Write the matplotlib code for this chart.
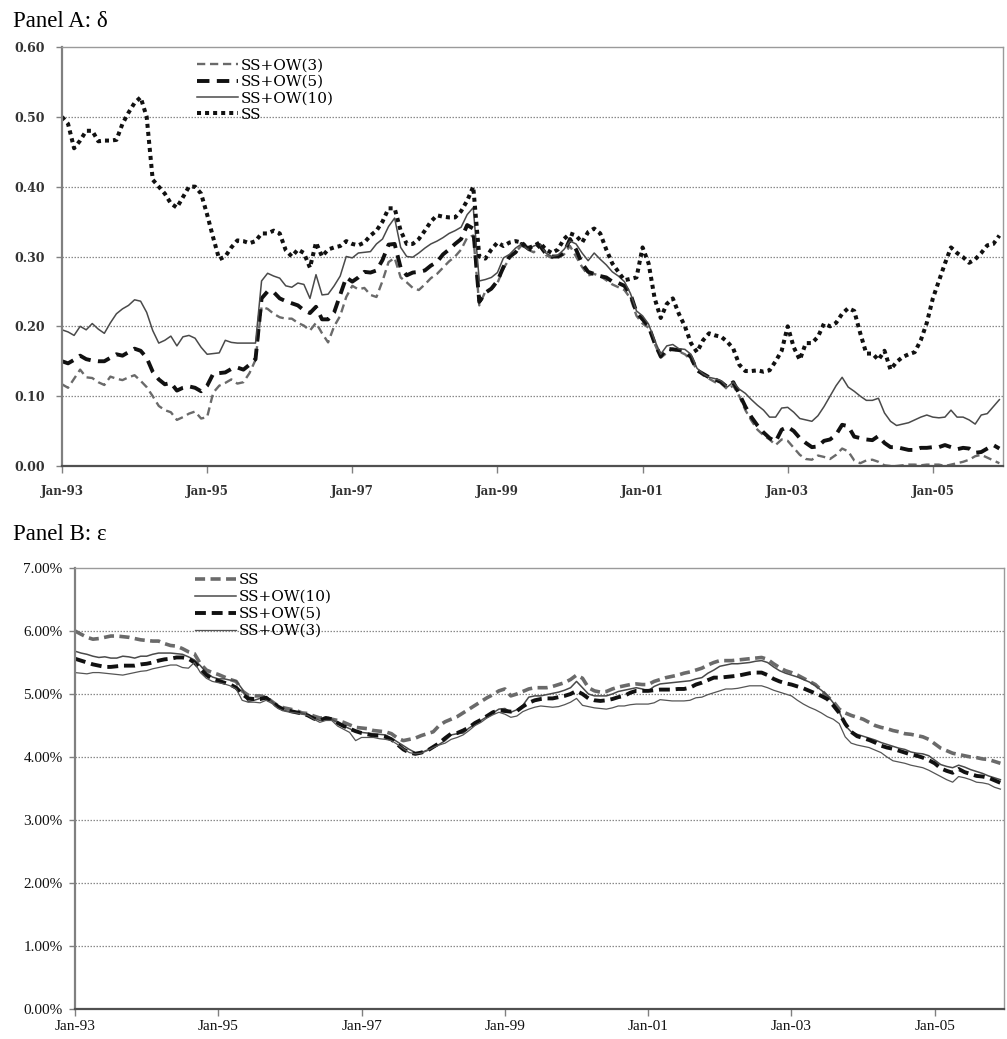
import matplotlib
matplotlib.use("Agg")
import matplotlib.pyplot as plt
import numpy as np

# ---- data: monthly observations, Jan-93 .. Dec-05 ----
tick_labels = ["Jan-93", "Jan-95", "Jan-97", "Jan-99", "Jan-01", "Jan-03", "Jan-05"]

delta_ss = [
    0.500, 0.490, 0.455, 0.466, 0.480, 0.480, 0.465, 0.466, 0.466, 0.467, 0.490, 0.506,
    0.520, 0.528, 0.500, 0.410, 0.400, 0.390, 0.376, 0.370, 0.385, 0.400, 0.400, 0.390,
    0.360, 0.327, 0.296, 0.300, 0.313, 0.323, 0.322, 0.319, 0.322, 0.333, 0.333, 0.337,
    0.333, 0.309, 0.300, 0.310, 0.305, 0.284, 0.320, 0.300, 0.310, 0.313, 0.315, 0.322,
    0.318, 0.316, 0.320, 0.330, 0.337, 0.350, 0.369, 0.369, 0.337, 0.318, 0.318, 0.325,
    0.337, 0.350, 0.359, 0.357, 0.356, 0.356, 0.365, 0.380, 0.400, 0.300, 0.297, 0.310,
    0.320, 0.315, 0.320, 0.322, 0.320, 0.312, 0.315, 0.320, 0.310, 0.305, 0.310, 0.325,
    0.333, 0.330, 0.320, 0.335, 0.340, 0.333, 0.310, 0.290, 0.278, 0.266, 0.268, 0.270,
    0.313, 0.290, 0.240, 0.212, 0.232, 0.240, 0.218, 0.200, 0.176, 0.163, 0.180, 0.190,
    0.187, 0.185, 0.178, 0.168, 0.145, 0.136, 0.136, 0.137, 0.135, 0.137, 0.150, 0.165,
    0.200, 0.170, 0.152, 0.176, 0.176, 0.185, 0.204, 0.200, 0.205, 0.218, 0.226, 0.222,
    0.190, 0.161, 0.161, 0.152, 0.165, 0.138, 0.149, 0.156, 0.160, 0.163, 0.180, 0.205,
    0.240, 0.265, 0.290, 0.313, 0.305, 0.299, 0.291, 0.296, 0.305, 0.316, 0.318, 0.330,
]
delta_ow10 = [
    0.195, 0.192, 0.187, 0.200, 0.195, 0.204, 0.196, 0.190, 0.205, 0.218, 0.225, 0.230,
    0.238, 0.236, 0.220, 0.194, 0.176, 0.180, 0.186, 0.172, 0.185, 0.187, 0.183, 0.170,
    0.160, 0.161, 0.162, 0.180, 0.177, 0.176, 0.176, 0.176, 0.176, 0.265, 0.276, 0.272,
    0.269, 0.258, 0.256, 0.262, 0.260, 0.240, 0.274, 0.245, 0.246, 0.258, 0.272, 0.300,
    0.298, 0.305, 0.306, 0.307, 0.318, 0.325, 0.343, 0.355, 0.313, 0.300, 0.299, 0.305,
    0.312, 0.318, 0.322, 0.327, 0.333, 0.337, 0.342, 0.360, 0.370, 0.265, 0.267, 0.270,
    0.277, 0.298, 0.303, 0.312, 0.318, 0.310, 0.315, 0.318, 0.305, 0.300, 0.302, 0.310,
    0.322, 0.318, 0.305, 0.294, 0.305, 0.296, 0.288, 0.278, 0.272, 0.264, 0.247, 0.222,
    0.215, 0.203, 0.180, 0.160, 0.172, 0.174, 0.168, 0.167, 0.160, 0.140, 0.132, 0.127,
    0.125, 0.122, 0.113, 0.120, 0.110, 0.104, 0.095, 0.087, 0.080, 0.070, 0.070, 0.083,
    0.084, 0.077, 0.068, 0.066, 0.064, 0.072, 0.085, 0.100, 0.115, 0.127, 0.113, 0.107,
    0.100, 0.094, 0.094, 0.097, 0.076, 0.064, 0.058, 0.060, 0.062, 0.066, 0.070, 0.073,
    0.070, 0.069, 0.070, 0.080, 0.070, 0.070, 0.066, 0.060, 0.073, 0.075, 0.085, 0.095,
]
delta_ow5 = [
    0.150, 0.147, 0.152, 0.158, 0.153, 0.151, 0.150, 0.150, 0.155, 0.160, 0.158, 0.163,
    0.168, 0.165, 0.155, 0.135, 0.124, 0.117, 0.119, 0.108, 0.112, 0.114, 0.112, 0.107,
    0.115, 0.132, 0.133, 0.134, 0.139, 0.141, 0.138, 0.145, 0.153, 0.240, 0.250, 0.249,
    0.240, 0.236, 0.233, 0.230, 0.223, 0.219, 0.228, 0.210, 0.210, 0.220, 0.245, 0.270,
    0.264, 0.270, 0.278, 0.277, 0.280, 0.295, 0.317, 0.318, 0.284, 0.273, 0.277, 0.278,
    0.280, 0.287, 0.292, 0.303, 0.310, 0.318, 0.325, 0.345, 0.340, 0.235, 0.248, 0.254,
    0.265, 0.285, 0.300, 0.306, 0.318, 0.312, 0.308, 0.316, 0.304, 0.300, 0.300, 0.305,
    0.325, 0.310, 0.290, 0.278, 0.275, 0.272, 0.270, 0.264, 0.262, 0.258, 0.246, 0.220,
    0.210, 0.200, 0.176, 0.157, 0.168, 0.167, 0.166, 0.164, 0.156, 0.137, 0.132, 0.127,
    0.124, 0.120, 0.113, 0.120, 0.103, 0.085, 0.070, 0.058, 0.048, 0.040, 0.035, 0.052,
    0.056, 0.050, 0.040, 0.033, 0.027, 0.028, 0.036, 0.038, 0.045, 0.059, 0.057, 0.042,
    0.040, 0.038, 0.037, 0.043, 0.033, 0.027, 0.027, 0.025, 0.023, 0.023, 0.026, 0.026,
    0.027, 0.027, 0.030, 0.027, 0.024, 0.026, 0.025, 0.019, 0.020, 0.025, 0.030, 0.025,
]
delta_ow3 = [
    0.117, 0.112, 0.125, 0.138, 0.127, 0.126, 0.120, 0.116, 0.128, 0.125, 0.123, 0.127,
    0.130, 0.122, 0.113, 0.100, 0.086, 0.080, 0.077, 0.066, 0.070, 0.075, 0.078, 0.068,
    0.070, 0.105, 0.115, 0.119, 0.124, 0.118, 0.120, 0.133, 0.152, 0.228, 0.225, 0.218,
    0.213, 0.211, 0.211, 0.205, 0.201, 0.194, 0.205, 0.190, 0.177, 0.200, 0.215, 0.242,
    0.258, 0.253, 0.255, 0.245, 0.242, 0.265, 0.292, 0.298, 0.270, 0.263, 0.255, 0.252,
    0.260, 0.269, 0.275, 0.284, 0.293, 0.300, 0.310, 0.327, 0.330, 0.230, 0.250, 0.253,
    0.262, 0.283, 0.297, 0.306, 0.316, 0.310, 0.306, 0.315, 0.302, 0.298, 0.298, 0.303,
    0.315, 0.300, 0.285, 0.273, 0.275, 0.272, 0.266, 0.260, 0.256, 0.252, 0.240, 0.215,
    0.204, 0.198, 0.175, 0.155, 0.162, 0.168, 0.164, 0.160, 0.152, 0.138, 0.130, 0.125,
    0.120, 0.118, 0.110, 0.115, 0.100, 0.080, 0.065, 0.052, 0.044, 0.038, 0.030, 0.038,
    0.036, 0.026, 0.016, 0.010, 0.009, 0.015, 0.013, 0.010, 0.016, 0.025, 0.021, 0.008,
    0.004, 0.008, 0.009, 0.006, 0.001, 0.000, 0.000, 0.001, 0.002, 0.002, 0.001, 0.002,
    0.002, 0.002, 0.000, 0.002, 0.004, 0.006, 0.009, 0.014, 0.016, 0.012, 0.008, 0.004,
]

# epsilon, in percent
eps_ss = [
    6.00, 5.95, 5.90, 5.87, 5.88, 5.90, 5.92, 5.92, 5.91, 5.90, 5.88, 5.86,
    5.85, 5.84, 5.84, 5.80, 5.77, 5.76, 5.72, 5.67, 5.64, 5.48, 5.38, 5.34,
    5.31, 5.27, 5.23, 5.20, 5.05, 4.98, 4.97, 4.97, 4.95, 4.88, 4.81, 4.78,
    4.76, 4.74, 4.70, 4.69, 4.65, 4.62, 4.62, 4.60, 4.58, 4.55, 4.51, 4.47,
    4.46, 4.45, 4.42, 4.41, 4.40, 4.37, 4.30, 4.26, 4.28, 4.30, 4.34, 4.37,
    4.40, 4.50, 4.56, 4.60, 4.64, 4.70, 4.76, 4.82, 4.88, 4.94, 4.99, 5.05,
    5.08, 4.97, 5.00, 5.04, 5.08, 5.10, 5.10, 5.10, 5.12, 5.15, 5.18, 5.23,
    5.30, 5.25, 5.10, 5.05, 5.03, 5.04, 5.08, 5.11, 5.13, 5.15, 5.16, 5.15,
    5.15, 5.20, 5.23, 5.26, 5.28, 5.30, 5.33, 5.35, 5.38, 5.41, 5.46, 5.50,
    5.53, 5.53, 5.53, 5.54, 5.55, 5.56, 5.57, 5.58, 5.55, 5.48, 5.42, 5.37,
    5.34, 5.30, 5.25, 5.20, 5.15, 5.06, 4.96, 4.88, 4.76, 4.70, 4.66, 4.63,
    4.60, 4.55, 4.50, 4.47, 4.45, 4.42, 4.40, 4.37, 4.36, 4.34, 4.32, 4.28,
    4.21, 4.14, 4.10, 4.06, 4.04, 4.02, 4.00, 3.99, 3.97, 3.96, 3.93, 3.90,
]
eps_ow10 = [
    5.68, 5.65, 5.63, 5.60, 5.58, 5.59, 5.57, 5.57, 5.60, 5.59, 5.57, 5.60,
    5.60, 5.63, 5.65, 5.65, 5.65, 5.64, 5.63, 5.59, 5.54, 5.45, 5.34, 5.27,
    5.24, 5.24, 5.22, 5.21, 5.08, 4.88, 4.90, 4.93, 4.96, 4.88, 4.80, 4.74,
    4.72, 4.71, 4.70, 4.66, 4.62, 4.58, 4.60, 4.60, 4.54, 4.49, 4.45, 4.40,
    4.39, 4.38, 4.37, 4.36, 4.35, 4.30, 4.24, 4.18, 4.12, 4.07, 4.07, 4.11,
    4.15, 4.20, 4.26, 4.35, 4.37, 4.38, 4.46, 4.52, 4.58, 4.64, 4.70, 4.76,
    4.77, 4.71, 4.75, 4.82, 4.95, 4.97, 4.97, 4.99, 5.01, 5.03, 5.06, 5.10,
    5.20, 5.10, 5.00, 4.97, 4.97, 4.97, 5.00, 5.04, 5.06, 5.08, 5.10, 5.08,
    5.05, 5.12, 5.16, 5.17, 5.18, 5.19, 5.20, 5.21, 5.24, 5.26, 5.33, 5.38,
    5.44, 5.46, 5.48, 5.48, 5.49, 5.50, 5.52, 5.53, 5.50, 5.43, 5.37, 5.33,
    5.30, 5.27, 5.23, 5.19, 5.13, 5.06, 4.98, 4.86, 4.72, 4.50, 4.40, 4.36,
    4.33, 4.30, 4.27, 4.23, 4.20, 4.17, 4.14, 4.12, 4.08, 4.06, 4.05, 4.02,
    3.95, 3.88, 3.85, 3.83, 3.87, 3.84, 3.80, 3.77, 3.74, 3.70, 3.67, 3.64,
]
eps_ow5 = [
    5.56, 5.53, 5.50, 5.47, 5.45, 5.43, 5.43, 5.44, 5.45, 5.45, 5.45, 5.47,
    5.48, 5.50, 5.53, 5.55, 5.56, 5.58, 5.58, 5.56, 5.50, 5.40, 5.30, 5.24,
    5.21, 5.18, 5.15, 5.10, 5.00, 4.93, 4.92, 4.92, 4.94, 4.87, 4.80, 4.75,
    4.73, 4.71, 4.69, 4.66, 4.61, 4.58, 4.62, 4.60, 4.54, 4.49, 4.45, 4.41,
    4.38, 4.36, 4.34, 4.34, 4.32, 4.28, 4.20, 4.12, 4.07, 4.05, 4.07, 4.10,
    4.16, 4.22, 4.30, 4.37, 4.38, 4.42, 4.47, 4.54, 4.59, 4.65, 4.71, 4.74,
    4.73, 4.72, 4.73, 4.80, 4.86, 4.90, 4.92, 4.93, 4.93, 4.95, 4.97, 5.00,
    5.05, 5.00, 4.93, 4.90, 4.89, 4.90, 4.92, 4.95, 4.97, 5.02, 5.05, 5.05,
    5.05, 5.06, 5.07, 5.07, 5.07, 5.08, 5.08, 5.10, 5.15, 5.18, 5.22, 5.26,
    5.26, 5.27, 5.28, 5.29, 5.31, 5.33, 5.34, 5.34, 5.30, 5.24, 5.20, 5.17,
    5.15, 5.12, 5.09, 5.05, 5.01, 4.97, 4.92, 4.82, 4.70, 4.53, 4.40, 4.33,
    4.30, 4.27, 4.23, 4.18, 4.15, 4.13, 4.10, 4.07, 4.04, 4.02, 3.99, 3.95,
    3.90, 3.82, 3.78, 3.75, 3.81, 3.76, 3.73, 3.70, 3.69, 3.67, 3.63, 3.59,
]
eps_ow3 = [
    5.34, 5.33, 5.32, 5.34, 5.34, 5.33, 5.32, 5.31, 5.30, 5.32, 5.34, 5.36,
    5.37, 5.40, 5.42, 5.44, 5.46, 5.46, 5.42, 5.41, 5.50, 5.34, 5.25, 5.20,
    5.18, 5.16, 5.13, 5.08, 4.90, 4.87, 4.87, 4.86, 4.90, 4.85, 4.77, 4.73,
    4.71, 4.70, 4.68, 4.66, 4.60, 4.55, 4.58, 4.58, 4.49, 4.44, 4.39, 4.26,
    4.31, 4.31, 4.31, 4.29, 4.28, 4.26, 4.20, 4.13, 4.07, 4.05, 4.06, 4.10,
    4.15, 4.19, 4.22, 4.28, 4.31, 4.35, 4.42, 4.50, 4.55, 4.62, 4.67, 4.71,
    4.68, 4.63, 4.65, 4.72, 4.76, 4.79, 4.81, 4.80, 4.79, 4.80, 4.83, 4.87,
    4.93, 4.82, 4.80, 4.78, 4.77, 4.76, 4.78, 4.81, 4.81, 4.83, 4.84, 4.84,
    4.84, 4.86, 4.91, 4.90, 4.89, 4.89, 4.89, 4.90, 4.94, 4.95, 4.99, 5.02,
    5.05, 5.08, 5.08, 5.09, 5.11, 5.13, 5.13, 5.13, 5.10, 5.06, 5.03, 5.00,
    4.97, 4.90, 4.84, 4.79, 4.75, 4.70, 4.64, 4.60, 4.53, 4.32, 4.22, 4.19,
    4.17, 4.15, 4.11, 4.07, 4.00, 3.94, 3.92, 3.90, 3.87, 3.85, 3.83, 3.79,
    3.74, 3.69, 3.64, 3.60, 3.69, 3.67, 3.64, 3.60, 3.59, 3.57, 3.52, 3.49,
]

months = np.arange(len(delta_ss))
tick_pos = np.arange(len(tick_labels)) * 24

W, H = 1007, 1039
fig = plt.figure(figsize=(W / 100, H / 100), dpi=100)

serif = "Liberation Serif"
wide_serif = "DejaVu Serif"
spine_col = "#808080"
grid_col = "#8a8a8a"


def style_axes(ax, ymax, ystep, fmt, ylab_font, xlab_font):
    ax.set_xlim(0, 155.6)
    ax.set_ylim(0, ymax)
    yt = np.round(np.arange(0, ymax + ystep / 2, ystep), 4)
    ax.set_yticks(yt)
    ax.set_yticklabels([fmt(v) for v in yt], **ylab_font)
    ax.set_xticks(tick_pos)
    ax.set_xticklabels(tick_labels, **xlab_font)
    for v in yt[1:-1]:
        ax.axhline(v, color=grid_col, lw=0.9, ls=(0, (1.2, 1.2)), zorder=0)
    for s in ("top", "right"):
        ax.spines[s].set_color("#9a9a9a")
        ax.spines[s].set_linewidth(1.0)
    ax.spines["left"].set_color(spine_col)
    ax.spines["left"].set_linewidth(1.6)
    ax.spines["bottom"].set_color("#505050")
    ax.spines["bottom"].set_linewidth(1.6)
    ax.tick_params(axis="y", direction="out", length=4, width=1.0, color=spine_col)
    ax.tick_params(axis="x", direction="out", length=5, width=1.0, color=spine_col)


legend_font = dict(family=wide_serif, size=11)

# ---------------- Panel A ----------------
axA = fig.add_axes([62 / W, 1 - 466 / H, (1003 - 62) / W, (466 - 47) / H])
lA3, = axA.plot(months, delta_ow3, color="#6a6a6a", lw=1.7, ls=(0, (3.5, 2.0)))
lA5, = axA.plot(months, delta_ow5, color="#111111", lw=2.8, ls=(0, (3.2, 1.9)))
lA10, = axA.plot(months, delta_ow10, color="#4a4a4a", lw=1.1, ls="-")
lAss, = axA.plot(months, delta_ss, color="#111111", lw=2.9, ls=(0, (1.0, 1.0)),
                 dash_capstyle="butt")
style_axes(axA, 0.60, 0.10, lambda v: f"{v:.2f}",
           dict(family=wide_serif, fontsize=9, fontweight="bold", color="#333333"),
           dict(family=wide_serif, fontsize=8.5, fontweight="bold", color="#333333"))
axA.tick_params(axis="y", pad=8)
axA.tick_params(axis="x", pad=9)
axA.legend([lA3, lA5, lA10, lAss], ["SS+OW(3)", "SS+OW(5)", "SS+OW(10)", "SS"],
           loc="upper left", bbox_to_anchor=(0.1435, 0.972), frameon=False,
           prop=legend_font, handlelength=2.7, handletextpad=0.15,
           labelspacing=0.15, borderpad=0.0, borderaxespad=0.0)
fig.text(13 / W, 1 - 27 / H, "Panel A: δ", family=serif, fontsize=16.5,
         va="baseline", ha="left")

# ---------------- Panel B ----------------
axB = fig.add_axes([75 / W, 1 - 1009 / H, (1004 - 75) / W, (1009 - 568) / H])
lBss, = axB.plot(months, eps_ss, color="#6a6a6a", lw=2.6, ls=(0, (2.8, 1.5)))
lB10, = axB.plot(months, eps_ow10, color="#4a4a4a", lw=1.1, ls="-")
lB5, = axB.plot(months, eps_ow5, color="#111111", lw=2.8, ls=(0, (2.8, 1.5)))
lB3, = axB.plot(months, eps_ow3, color="#555555", lw=0.9, ls="-")
style_axes(axB, 7.0, 1.0, lambda v: f"{v:.2f}%",
           dict(family=serif, fontsize=11, color="#111111"),
           dict(family=serif, fontsize=11, color="#111111"))
axB.tick_params(axis="y", pad=5)
axB.tick_params(axis="x", pad=3)
axB.legend([lBss, lB10, lB5, lB3], ["SS", "SS+OW(10)", "SS+OW(5)", "SS+OW(3)"],
           loc="upper left", bbox_to_anchor=(0.129, 0.989), frameon=False,
           prop=legend_font, handlelength=2.7, handletextpad=0.15,
           labelspacing=0.2, borderpad=0.0, borderaxespad=0.0)
fig.text(13 / W, 1 - 540 / H, "Panel B: ε", family=serif, fontsize=16.5,
         va="baseline", ha="left")

fig.savefig("out.png", dpi=100)
